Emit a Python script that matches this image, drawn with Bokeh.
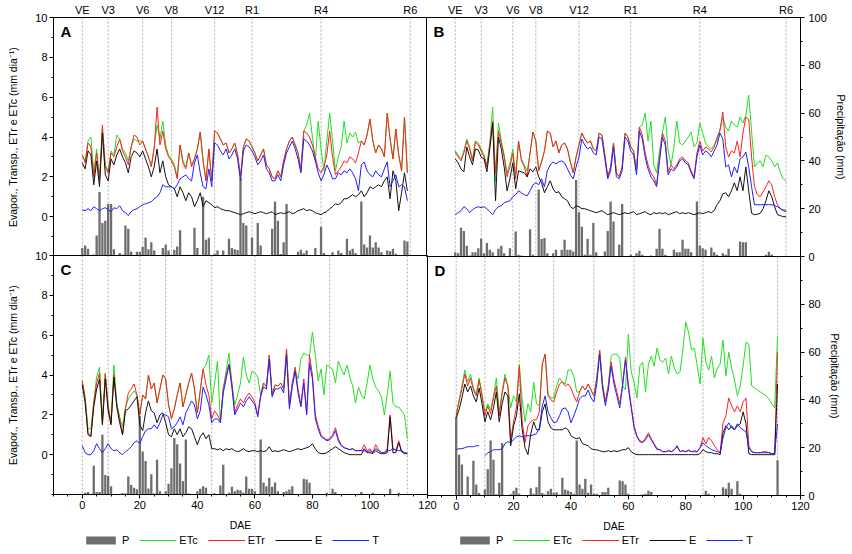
from bokeh.plotting import figure
from bokeh.models import (Range1d, LinearAxis, FixedTicker, Span, Label,
                          Legend, LegendItem, ColumnDataSource)
from bokeh.embed import file_html
from bokeh.resources import INLINE

NaN = float("nan")

# ---------------- data ----------------
stage_names = ["VE", "V3", "V6", "V8", "V12", "R1", "R4", "R6"]
stage_A = [0, 9, 21, 31, 46, 59, 83, 114]
stage_B = [0, 9, 20, 28, 43, 61, 85, 115]
stage_C = [0, 9, 20, 29, 45, 60, 86, 113]
stage_D = [0, 10, 22, 34, 48, 62, 86, 112]

x_ticks = [0, 20, 40, 60, 80, 100, 120]
y_ticks = [0, 2, 4, 6, 8, 10]
p_ticks_B = [0, 20, 40, 60, 80, 100]
p_ticks_D = [0, 20, 40, 60, 80]

series_names = ["P", "ETc", "ETr", "E", "T"]

# Panel A
etr_A = [3.1, 2.7, 3.7, 3.5, 2.0, 3.2, 1.8, 4.6, 2.5, 2.2,
         3.2, 3.0, 3.5, 3.9, 3.3, 3.0, 2.6, 3.5, 4.1, 4.0,
         3.6, 3.8, 3.4, 3.0, 2.5, 3.4, 5.5, 3.6, 4.3, 3.4,
         3.0, 2.8, 2.5, 1.9, 3.6, 2.7, 2.4, 3.2, 2.5, 2.9,
         3.4, 4.25, 2.8, 1.8, 3.4, 1.8, 4.3, 4.2, 3.9, 3.6,
         3.7, 3.2, 3.4, 3.7, 3.1, 2.0, 3.5, 3.9, 3.8, 3.5,
         3.2, 2.8, 3.1, 3.4, 2.6, 2.4, 2.0, 1.9, 2.3, 2.0,
         2.8, 3.4, 3.8, 4.0, 3.6, 3.2, 2.3, 4.3, 4.2, 4.0,
         3.6, 3.0, 2.4, 2.2, 2.5, 3.1, 4.3, 3.0, 2.1, 2.3,
         2.5, 2.8, 2.7, 3.0, 2.9, 2.7, 3.2, 3.8, 3.6, 4.1,
         4.9, 3.8, 3.2, 3.6, 3.4, 3.0, 5.2, 3.9, 2.9, 4.4,
         3.1, 2.3, 5.0, 2.2]
etc_A = [3.1, 2.8, 3.8, 4.0, 2.2, 3.4, 1.9, 4.4, 2.6, 2.3,
         3.3, 3.1, 4.1, 3.9, 3.4, 3.2, 2.8, 3.5, 3.9, 3.8,
         3.8, 3.8, 3.4, 3.0, 2.6, 3.5, 4.6, 3.9, 4.8, 3.6,
         3.1, 2.9, 2.6, 2.0, 3.6, 2.8, 2.5, 3.2, 2.6, 2.9,
         3.4, 4.25, 2.8, 1.8, 3.4, 1.8, 4.3, 4.2, 3.9, 3.6,
         3.7, 3.2, 3.4, 3.7, 3.1, 2.0, 3.5, 3.9, 3.8, 3.5,
         3.2, 2.8, 3.1, 3.4, 2.6, 2.4, 2.0, 1.9, 2.3, 2.0,
         2.8, 3.4, 3.8, 4.0, 3.6, 3.2, 2.4, 4.3, 4.6, 5.2,
         4.0, 2.8, 4.8, 3.4, 2.3, 3.8, 5.2, 3.8, 2.3, 3.0,
         3.5, 4.8, 3.7, 4.2, 4.0, 4.25, 3.7, 3.8, 3.6, 4.1,
         4.9, 3.8, 3.2, 3.6, 3.4, 3.0, 5.2, 3.9, 2.9, 4.4,
         3.1, 2.3, 5.0, 2.2]
e_A = [2.7, 2.4, 3.3, 3.1, 1.6, 2.8, 1.5, 4.2, 2.1, 1.8,
       2.9, 2.6, 3.1, 3.4, 3.0, 2.7, 2.2, 3.0, 3.3, 3.2,
       3.0, 3.3, 2.9, 2.5, 2.0, 2.5, 3.4, 2.2, 2.8, 2.0,
       1.6, 1.5, 1.4, 1.0, 1.5, 1.2, 0.8, 1.2, 1.0, 0.5,
       0.8, 1.2, 0.5, 0.8, 0.7, 0.6, 0.45, 0.5, 0.4, 0.35,
       0.3, 0.3, 0.25, 0.2, 0.15, 0.1, 0.15, 0.2, 0.25, 0.2,
       0.15, 0.2, 0.25, 0.2, 0.15, 0.2, 0.25, 0.1, 0.15, 0.2,
       0.15, 0.2, 0.25, 0.15, 0.2, 0.3, 0.35, 0.4, 0.3, 0.35,
       0.3, 0.2, 0.15, 0.1, 0.2, 0.25, 0.4, 0.5, 0.65, 0.6,
       0.7, 0.9, 0.9, 1.0, 1.1, 1.0, 1.1, 1.3, 1.0, 1.2,
       1.5, 1.4, 1.5, 1.6, 1.5, 1.8, 2.0, 0.9, 2.3, 1.8,
       0.3, 1.2, 2.2, 1.3]
t_A = [0.35, 0.3, 0.4, 0.3, 0.5, 0.4, 0.3, 0.4, 0.45, 0.35,
       0.25, 0.45, 0.4, 0.55, 0.3, 0.2, 0.05, 0.25, 0.35, 0.4,
       0.5, 0.6, 0.65, 0.7, 0.75, 0.9, 1.0, 1.2, 1.6, 1.5,
       1.5, 1.5, 1.4, 1.6, 1.9, 2.0, 2.1, 1.9, 1.8, 2.7,
       3.1, 2.2, 1.5, 1.4, 2.4, 1.5, 3.7, 3.6, 3.3, 3.1,
       3.4, 2.9, 3.1, 3.4, 2.9, 1.8, 3.3, 3.6, 3.5, 3.3,
       3.0, 2.6, 2.8, 3.1, 2.4, 2.2, 1.8, 1.8, 2.1, 1.8,
       2.6, 3.2, 3.5, 3.8, 3.4, 2.9, 2.2, 3.9, 3.8, 3.6,
       3.3, 2.8, 2.2, 1.8, 2.1, 2.6, 2.3, 1.9, 1.9, 2.2,
       2.1, 2.3, 2.2, 2.4, 2.2, 1.9, 1.3, 2.6, 2.75, 2.3,
       2.1, 2.0, 2.3, 2.1, 2.0, 2.4, 2.75, 1.5, 1.8, 2.1,
       1.5, 1.6, 1.5, 0.8]
p_A = [3.6, 4.6, 3.2, 0, 0.8, 8.8, 27, 14, 15, 22,
       22, 3, 0, 1.5, 0.8, 13, 11.6, 2, 0, 2,
       2, 4, 7.8, 3, 6, 2.5, 0, 0.5, 3.6, 5,
       2.5, 0, 2.8, 4.2, 11, 0, 0, 0.7, 0, 12,
       3.6, 0, 25, 7, 7.8, 0, 1.2, 2.5, 0.5, 2.5,
       0, 7.4, 3.6, 3, 2.7, 33, 14, 13, 0, 8,
       0, 14, 4.6, 0, 0, 0, 11.6, 23, 15, 1.0,
       6, 22, 0, 0, 0, 2, 2.8, 1.4, 2.5, 0,
       0, 3.6, 0, 12.5, 1.5, 0, 0, 1.8, 0, 2.5,
       1.5, 0, 7.4, 2.5, 3.2, 1.5, 0, 23, 5, 3.8,
       8.8, 3.8, 6, 3.8, 1.8, 0, 2.5, 2.2, 3.2, 1.1,
       0, 0, 6.7, 6.3]

# Panel B
etr_B = [3.25, 3.0, 2.8, 3.2, 3.8, 3.4, 2.8, 3.75, 3.6, 3.3,
         3.0, 2.5, 3.6, 4.8, 2.2, 4.3, 3.7, 3.0, 2.0, 2.5,
         3.2, 1.9, 3.8, 2.8, 2.5, 2.0, 3.2, 4.25, 3.8, 2.3,
         2.75, 3.3, 4.3, 4.2, 3.5, 3.8, 3.2, 3.6, 3.7, 3.4,
         2.75, 2.2, 3.0, 3.6, 4.2, 3.9, 3.7, 3.8, 3.4, 3.3,
         4.2, 4.1, 3.1, 2.0, 2.5, 3.7, 2.2, 2.0, 2.5, 4.2,
         4.0, 3.5, 3.3, 2.3, 4.5, 4.1, 3.2, 2.6, 2.2, 2.0,
         1.6, 3.0, 4.2, 3.8, 2.25, 2.6, 2.4, 2.6, 2.9, 3.0,
         2.8, 2.7, 2.3, 2.0, 3.2, 3.8, 3.3, 3.5, 3.4, 3.25,
         3.5, 4.0, 4.3, 5.25, 3.5, 3.0, 3.3, 3.2, 3.8, 3.0,
         4.2, 5.0, 4.9, 3.0, 1.5, 1.1, 1.0, 1.25, 1.5, 1.8,
         1.6, 1.0, 0.6, 0.4, 0.35, 0.33]
etc_B = [3.3, 3.1, 2.9, 3.3, 3.9, 3.5, 2.9, 3.8, 3.7, 3.4,
         3.1, 2.6, 3.7, 5.5, 1.8, 4.7, 3.8, 3.1, 2.2, 2.7,
         3.4, 2.1, 3.8, 2.9, 2.6, 2.3, 3.2, 4.25, 3.8, 2.3,
         2.75, 3.3, 4.3, 4.2, 3.5, 3.8, 3.2, 3.6, 3.7, 3.4,
         2.75, 2.2, 3.0, 3.6, 4.2, 3.9, 3.7, 3.8, 3.4, 3.3,
         4.2, 4.1, 3.1, 2.0, 2.5, 3.7, 2.2, 2.0, 2.5, 4.2,
         4.0, 3.5, 3.3, 2.3, 4.5, 4.6, 5.2, 3.8, 4.8, 2.6,
         2.2, 3.3, 4.2, 5.0, 3.3, 2.6, 3.5, 4.8, 3.7, 3.6,
         3.8, 4.0, 4.25, 3.5, 3.7, 4.7, 4.2, 3.7, 3.5, 3.4,
         3.6, 3.8, 4.4, 5.0, 4.5, 4.3, 4.8, 4.6, 4.5, 5.0,
         4.7, 5.1, 6.1, 4.3, 2.5, 2.7, 2.8, 2.5, 3.1, 3.0,
         2.8, 2.5, 2.7, 2.2, 1.9, 1.8]
e_B = [2.9, 2.7, 2.4, 2.25, 3.5, 3.0, 2.6, 3.4, 3.35, 3.0,
       2.9, 2.25, 3.4, 4.7, 0.8, 4.0, 3.4, 2.5, 1.3, 1.9,
       2.7, 1.4, 2.3, 2.25, 2.2, 2.0, 2.4, 2.25, 2.5, 2.0,
       1.7, 1.2, 1.5, 1.8, 1.4, 1.2, 1.25, 1.0, 0.9, 0.8,
       0.5, 0.4, 0.55, 0.5, 0.4, 0.4, 0.35, 0.3, 0.25, 0.2,
       0.25, 0.3, 0.2, 0.1, 0.15, 0.2, 0.15, 0.1, 0.15, 0.2,
       0.15, 0.2, 0.25, 0.1, 0.15, 0.2, 0.25, 0.15, 0.1, 0.2,
       0.15, 0.2, 0.15, 0.2, 0.1, 0.15, 0.2, 0.25, 0.15, 0.2,
       0.15, 0.2, 0.15, 0.1, 0.15, 0.2, 0.15, 0.2, 0.25, 0.2,
       0.3, 0.6, 0.8, 1.15, 1.2, 1.0, 1.3, 1.7, 1.3, 2.0,
       1.3, 2.5, 1.3, 0.17, 0.1, 0.12, 0.17, 0.4, 0.8, 1.3,
       1.0, 0.5, 0.1, 0.05, 0.0, 0.0]
t_B = [0.1, 0.2, 0.3, 0.5, 0.4, 0.2, 0.35, 0.45, 0.5, 0.45,
       0.5, 0.4, 0.25, 0.1, 0.35, 0.5, 0.55, 0.7, 0.75, 0.8,
       1.0, 1.1, 1.3, 1.2, 1.1, 1.05, 1.3, 1.6, 1.7, 1.6,
       1.9, 1.5, 2.3, 2.6, 2.75, 2.65, 2.75, 2.8, 2.7, 2.4,
       2.1, 1.9, 2.5, 3.0, 3.9, 3.6, 3.4, 3.5, 3.2, 3.1,
       4.0, 3.9, 2.9, 1.9, 2.3, 3.5, 2.0, 1.9, 2.3, 4.0,
       3.8, 3.3, 3.1, 2.1, 4.3, 3.9, 3.0, 2.4, 2.0, 1.8,
       1.5, 2.8, 4.0, 3.6, 2.1, 2.4, 2.3, 2.5, 2.8, 2.9,
       2.7, 2.6, 2.2, 1.9, 3.0, 3.6, 3.1, 3.3, 3.2, 3.0,
       3.3, 3.6, 4.2, 3.9, 2.5, 2.6, 2.0, 2.5, 2.2, 2.9,
       3.0, 3.25, 2.5, 1.5, 0.6, 0.6, 0.6, 0.6, 0.6, 0.6,
       0.6, 0.55, 0.5, 0.4, 0.3, 0.25]
p_B = [1.8, 1.4, 12, 10.7, 4.5, 0.4, 1.8, 1.8, 3.5, 7.4,
       1.4, 5.6, 2.8, 1.8, 0, 3.2, 4.5, 1.4, 0, 3.5,
       0, 10.5, 0.7, 0.4, 0, 0, 11.4, 0.7, 0, 28,
       7.3, 7.7, 1.4, 0, 1.4, 2.8, 0, 2.8, 7, 2.8,
       2.8, 2.1, 32, 18.5, 12.5, 0.7, 7.4, 0.7, 14, 1.8,
       0, 0, 2.1, 10.7, 23, 14.6, 0, 5, 22, 0,
       0, 0.7, 0, 1.4, 2.4, 0.7, 0, 0, 0.4, 0,
       3.2, 11.6, 3.2, 0.7, 0, 0, 2.8, 1.8, 1.8, 7,
       3.2, 3.2, 1.8, 0, 23, 4.6, 3.5, 2.8, 0, 3.8,
       1.8, 0.7, 0, 1.4, 0.7, 3.2, 0, 0, 0, 6.3,
       6.0, 6.0, 0, 0, 0, 0, 0, 0, 0.7, 2.0,
       0.8, 0, 0, 0, 0, 0]

# Panel C
etr_C = [3.7, 2.8, 1.1, 0.95, 2.6, 3.6, 4.1, 1.6, 4.05, 2.4,
         1.6, 4.0, 2.5, 1.8, 1.0, 2.3, 3.1, 3.3, 3.55, 3.0,
         2.0, 3.0, 2.8, 4.0, 3.3, 3.6, 2.6, 3.3, 4.0, 3.8,
         2.5, 1.8, 2.3, 3.0, 3.6, 2.4, 3.0, 3.6, 4.1, 3.3,
         2.1, 3.2, 4.3, 3.5, 3.0, 1.8, 2.2, 2.0, 1.7, 3.3,
         4.0, 4.55, 3.6, 2.1, 2.5, 2.8, 2.6, 2.9, 3.1, 2.9,
         2.6, 2.0, 3.0, 3.6, 3.4, 5.0, 3.0, 3.5, 3.45, 3.6,
         3.3, 5.3, 2.5, 3.6, 4.4, 3.3, 2.5, 3.8, 2.1, 5.0,
         4.0, 2.0, 1.45, 1.0, 0.85, 0.75, 0.8, 1.0, 1.35, 0.8,
         0.5, 0.35, 0.3, 0.25, 0.3, 0.2, 0.2, 0.2, 0.5, 0.2,
         0.3, 0.1, 0.5, 0.25, 0.1, 0.1, 0.3, 2.0, 0.3, 0.2,
         0.7, 0.2, 0.1, 0.05]
etc_C = [3.7, 2.9, 1.3, 1.3, 2.7, 3.9, 4.4, 1.7, 4.1, 2.5,
         1.6, 4.5, 2.6, 1.9, 1.4, 2.4, 2.8, 3.0, 3.2, 3.0,
         2.0, 3.0, 2.8, 4.0, 3.3, 3.6, 2.6, 3.3, 4.0, 3.8,
         2.5, 1.8, 2.3, 3.0, 3.6, 2.4, 3.0, 3.6, 4.1, 3.3,
         2.1, 3.2, 4.3, 4.5, 5.0, 2.6, 3.6, 4.7, 1.6, 3.3,
         4.2, 5.1, 3.6, 2.5, 3.0, 3.6, 4.9, 4.0, 3.6, 4.2,
         4.1, 3.9, 3.0, 3.6, 3.4, 5.0, 3.0, 3.5, 3.45, 3.6,
         3.3, 5.3, 2.5, 3.6, 4.2, 3.8, 4.8, 5.1, 5.0, 5.0,
         6.15, 5.0, 3.7, 4.3, 3.0, 4.5, 4.4, 4.3, 3.6, 4.7,
         4.3, 4.0, 4.5, 3.9, 3.45, 2.6, 3.4, 3.0, 2.8, 3.6,
         4.5, 3.8, 3.4, 3.2, 2.9, 2.0, 3.0, 4.2, 2.6, 2.4,
         2.4, 2.2, 2.0, 0.8]
e_C = [3.5, 2.6, 1.0, 0.9, 2.4, 3.3, 3.8, 1.5, 3.8, 2.2,
       1.5, 3.9, 2.4, 1.6, 1.0, 2.2, 2.3, 2.5, 2.7, 2.9,
       1.5, 1.2, 2.1, 2.7, 2.2, 2.1, 1.6, 2.0, 2.1, 1.6,
       1.0, 0.9, 1.3, 1.0, 1.3, 0.9, 1.1, 1.4, 1.3, 0.9,
       0.5, 0.9, 1.1, 0.8, 1.0, 0.3, 0.3, 0.25, 0.3, 0.2,
       0.3, 0.25, 0.3, 0.2, 0.15, 0.2, 0.3, 0.2, 0.15, 0.2,
       0.2, 0.15, 0.2, 0.15, 0.2, 0.4, 0.15, 0.2, 0.15, 0.2,
       0.25, 0.2, 0.15, 0.2, 0.25, 0.3, 0.25, 0.3, 0.35, 0.4,
       0.55, 0.3, 0.1, 0.05, 0.05, 0.1, 0.2, 0.3, 0.4, 0.3,
       0.2, 0.1, 0.05, 0.0, 0.0, 0.0, 0.0, 0.0, 0.3, 0.1,
       0.1, 0.05, 0.2, 0.1, 0.05, 0.05, 0.1, 1.9, 0.1, 0.1,
       0.6, 0.15, 0.05, 0.05]
t_C = [0.45, 0.1, 0.0, 0.0, 0.2, 0.55, 0.3, 0.1, 0.3, 0.55,
       0.3, 0.2, 0.25, 0.1, 0.0, 0.15, 0.25, 0.4, 0.6, 0.7,
       0.55, 0.9, 1.2, 1.3, 1.3, 1.5, 1.3, 1.6, 2.0, 2.0,
       1.9, 1.3, 1.4, 1.6, 1.9, 1.5, 2.1, 2.4, 2.7, 2.5,
       1.8, 2.2, 3.4, 3.0, 2.5, 1.6, 1.8, 1.8, 1.6, 3.1,
       3.8, 4.5, 3.4, 2.0, 2.3, 2.6, 2.4, 2.7, 2.9, 2.7,
       2.5, 1.9, 2.9, 3.4, 3.3, 4.8, 2.9, 3.3, 3.3, 3.4,
       3.1, 5.0, 2.3, 3.4, 4.2, 3.1, 2.4, 3.6, 2.0, 4.6,
       3.8, 1.8, 1.3, 0.9, 0.8, 0.7, 0.75, 0.9, 1.2, 0.7,
       0.45, 0.35, 0.3, 0.25, 0.3, 0.2, 0.2, 0.2, 0.2, 0.15,
       0.2, 0.1, 0.3, 0.2, 0.1, 0.1, 0.2, 0.2, 0.3, 0.25,
       0.2, 0.2, 0.1, 0.05]
p_C = [0, 0.7, 1.0, 0, 12, 1.0, 1.0, 25, 8.2, 7.7,
       3.4, 0, 0, 0, 0.5, 0.5, 7.5, 4, 2.8, 2.2,
       33, 18, 14, 2.5, 8.5, 0.5, 14.5, 1.4, 0, 1.4,
       4.5, 11, 23.6, 21, 13, 5.5, 23, 0.4, 0, 0,
       1.4, 2.4, 3.4, 2.8, 0, 0, 0.5, 0, 3.8, 12.4,
       0, 0.7, 3.2, 1.4, 2.0, 1.8, 0.7, 7.5, 2.4, 2.4,
       1.4, 0, 23, 5, 3.5, 7, 3.2, 5, 1.4, 0,
       1.0, 1.4, 2.1, 3.5, 0, 0, 0, 6.6, 6.3, 4.9,
       0, 0, 0, 0, 0, 0.7, 0, 2.4, 1.0, 0,
       0, 0, 0, 0, 0, 0, 0, 1.0, 0, 0,
       0, 0.7, 0, 0, 0, 0, 0, 2.4, 0, 0,
       0.7, 0, 0, 0]

# Panel D
etr_D = [2.0, 2.7, 3.35, 4.1, 3.5, 3.9, 3.3, 3.0, 3.8, 3.0,
         2.0, 2.5, 2.1, 2.9, 3.5, 2.0, 3.1, 3.9, 3.5, 0.8,
         1.7, 2.4, 4.5, 1.7, 0.65, 1.5, 1.7, 1.8, 1.8, 2.2,
         4.6, 5.1, 3.0, 2.8, 2.7, 3.2, 3.6, 3.7, 3.5, 3.6,
         3.4, 3.0, 2.7, 3.2, 3.5, 3.3, 3.6, 3.3, 3.0, 3.9,
         5.3, 3.6, 2.7, 3.5, 4.7, 3.8, 3.2, 2.6, 3.6, 4.95,
         3.6, 2.5, 1.5, 1.0, 0.75, 0.7, 0.9, 1.15, 0.85, 0.6,
         0.35, 0.3, 0.2, 0.2, 0.25, 0.2, 0.3, 0.45, 0.2, 0.25,
         0.2, 0.3, 0.2, 0.25, 0.2, 0.4, 0.9, 0.6, 0.9, 0.75,
         0.5, 0.3, 0.15, 1.65, 2.0, 2.9, 2.5, 2.2, 2.5, 2.2,
         2.7, 2.9, 0.5, 0.2, 0.15, 0.15, 0.15, 0.2, 0.2, 0.15,
         0.1, 0.1, 5.2]
etc_D = [2.1, 2.8, 3.5, 4.3, 3.7, 4.1, 3.4, 3.1, 3.9, 3.1,
         2.2, 2.6, 2.3, 3.0, 3.9, 2.2, 3.2, 4.1, 3.5, 2.4,
         3.0, 2.7, 4.6, 2.8, 1.7, 2.6, 2.2, 3.7, 2.6, 2.5,
         4.6, 5.1, 3.1, 2.9, 2.9, 3.5, 3.9, 3.7, 3.6, 4.3,
         4.3, 4.0, 3.2, 3.2, 3.5, 3.3, 3.6, 3.3, 3.0, 3.9,
         5.3, 3.6, 2.7, 3.5, 5.0, 5.1, 5.1, 4.9, 3.5, 3.3,
         6.1, 4.2, 3.7, 2.9, 4.5, 4.7, 3.2, 4.6, 5.0, 4.5,
         5.4, 4.8, 4.7, 4.9, 4.1, 5.0, 4.4, 4.1, 4.2, 5.3,
         6.7, 6.2, 5.3, 5.4, 4.5, 3.6, 5.9, 4.7, 4.3, 5.0,
         3.9, 4.4, 4.6, 5.8, 4.0, 5.2, 4.4, 3.8, 3.0, 3.5,
         4.5, 5.7, 5.6, 3.5, 3.4, 3.3, 3.2, 3.1, 3.0, 2.85,
         2.6, 2.4, 6.0]
e_D = [1.9, 2.3, 2.9, 3.6, 3.2, 3.5, 3.0, 2.7, 3.4, 2.6,
       1.7, 2.2, 1.8, 2.4, 3.2, 1.7, 2.6, 3.2, 3.0, 0.5,
       1.5, 2.0, 3.1, 1.3, 0.4, 0.05, 1.1, 1.7, 1.3, 1.3,
       2.2, 2.6, 1.7, 1.4, 1.3, 1.3, 1.3, 1.3, 1.4, 1.3,
       1.0, 0.9, 0.85, 0.9, 0.6, 0.55, 0.5, 0.35, 0.3, 0.3,
       0.25, 0.2, 0.2, 0.25, 0.2, 0.25, 0.2, 0.25, 0.3, 0.3,
       0.4, 0.2, 0.1, 0.05, 0.05, 0.05, 0.05, 0.05, 0.05, 0.05,
       0.05, 0.05, 0.05, 0.05, 0.05, 0.05, 0.05, 0.05, 0.05, 0.05,
       0.05, 0.05, 0.05, 0.05, 0.05, 0.1, 0.3, 0.2, 0.15, 0.15,
       0.1, 0.1, 0.05, 1.15, 1.5, 1.3, 1.5, 1.3, 1.5, 1.6,
       2.2, 1.6, 0.1, 0.05, 0.05, 0.05, 0.05, 0.05, 0.05, 0.05,
       0.05, 0.05, 3.6]
t_D = [0.3, 0.35, 0.35, 0.4, 0.45, 0.45, 0.45, 0.5, 0.5, NaN,
       0.0, 0.15, 0.2, 0.3, 0.3, 0.3, 0.35, 0.6, 0.7, 0.65,
       0.8, 0.95, 1.0, 0.95, 1.0, 1.0, 1.0, 1.05, 1.1, 1.4,
       2.5, 3.0, 2.2, 1.9, 1.65, 1.7, 2.0, 2.35, 2.4, 2.2,
       1.65, 2.0, 2.4, 2.85, 3.0, 3.0, 3.3, 2.9, 2.7, 3.6,
       5.1, 3.4, 2.5, 3.3, 4.5, 3.6, 3.0, 2.4, 3.5, 4.8,
       3.4, 2.4, 1.4, 0.95, 0.7, 0.65, 0.8, 1.05, 0.8, 0.55,
       0.3, 0.3, 0.2, 0.2, 0.25, 0.2, 0.3, 0.5, 0.2, 0.25,
       0.2, 0.25, 0.2, 0.2, 0.2, 0.4, 0.65, 0.5, 0.4, 0.3,
       0.25, 0.2, 0.15, 0.9, 1.4, 1.65, 1.4, 1.3, 1.6, 1.4,
       1.3, 1.2, 0.4, 0.2, 0.15, 0.15, 0.15, 0.15, 0.15, 0.15,
       0.1, 0.1, 1.6]
p_D = [33, 17, 13, 0, 8, 0, 14.5, 4.6, 1.0, 0,
       2.5, 11, 23, 15, 0.5, 5.3, 22, 0, 0, 0.5,
       2.0, 3.2, 0.7, 0, 0, 0, 3.0, 0.7, 3.5, 12,
       1.0, 0.4, 1.8, 2.8, 1.1, 1.4, 0.4, 7.4, 2.5, 2.1,
       1.5, 0.7, 23, 4.6, 2.8, 7.0, 1.1, 4.6, 0.7, 0.7,
       0, 1.5, 1.5, 3.2, 0.2, 0, 0, 6.3, 6.0, 4.6,
       0.7, 0, 0, 0, 0, 0.4, 0.7, 2.0, 1.5, 0,
       0, 0, 0, 0.2, 0, 0, 0, 0, 0, 0,
       0, 0.4, 0, 0, 0, 0, 0, 2.0, 0.7, 0,
       0, 0, 0, 3.5, 2.8, 5.3, 2.8, 0, 6.0, 0.7,
       0, 0, 0, 0, 0, 0, 0, 0, 0, 0,
       0.2, 0, 14.7]

# ---------------- style ----------------
FONT = "Liberation Sans"
C_ETC = "#22e022"
C_ETR = "#ff2020"
C_E = "#111111"
C_T = "#2020ff"
C_P = "#6e6e6e"
C_STAGE = "#b0b0b0"


def place(fig, pos):
    fig.styles = {"position": "absolute", "left": f"{pos[0]}px", "top": f"{pos[1]}px"}


def style_axis(ax, ticks, minor):
    ax.ticker = FixedTicker(ticks=ticks, minor_ticks=minor)
    ax.major_label_text_font = FONT
    ax.major_label_text_font_size = "11px"
    ax.major_label_text_color = "black"
    ax.axis_label_text_font = FONT
    ax.axis_label_text_font_size = "10.5px"
    ax.axis_label_text_font_style = "normal"
    ax.axis_label_text_color = "black"
    ax.axis_line_color = "black"
    ax.major_tick_line_color = "black"
    ax.minor_tick_line_color = "black"
    ax.major_tick_in = 0
    ax.major_tick_out = 4
    ax.minor_tick_in = 0
    ax.minor_tick_out = 2
    ax.major_label_standoff = 2


def panel(letter, stages, etr, etc, e, t, p, pos, size, borders,
          show_left, p_ticks, show_bottom, show_names):
    dae = list(range(len(etr)))
    src = ColumnDataSource(dict(dae=dae, etr=etr, etc=etc, e=e, t=t, p=p))
    fig = figure(width=size[0], height=size[1],
                 x_range=Range1d(-10, 120), y_range=Range1d(-2, 10),
                 x_axis_location="below" if show_bottom else None,
                 y_axis_location="left" if show_left else None,
                 toolbar_location=None, output_backend="svg",
                 min_border_left=borders[0], min_border_right=borders[1],
                 min_border_top=borders[2], min_border_bottom=borders[3])
    place(fig, pos)
    fig.extra_y_ranges = {"P": Range1d(0, 100)}
    fig.background_fill_alpha = 0
    fig.border_fill_alpha = 0
    fig.outline_line_color = "black"
    fig.outline_line_width = 1
    fig.outline_line_alpha = 1
    fig.grid.visible = False

    for d in stages:
        fig.add_layout(Span(location=d, dimension="height", line_color=C_STAGE,
                            line_dash="2 2", line_width=1, level="underlay"))
    if show_names:
        top_ax = LinearAxis(ticker=FixedTicker(ticks=stages, minor_ticks=[]),
                            major_label_overrides={d: n for d, n in zip(stages, stage_names)})
        top_ax.axis_line_color = None
        top_ax.major_tick_line_color = None
        top_ax.minor_tick_line_color = None
        top_ax.major_tick_out = 0
        top_ax.major_tick_in = 0
        top_ax.minor_tick_out = 0
        top_ax.minor_tick_in = 0
        top_ax.major_label_standoff = 2
        top_ax.major_label_text_font = FONT
        top_ax.major_label_text_font_size = "11px"
        top_ax.major_label_text_color = "black"
        fig.add_layout(top_ax, "above")
    fig.add_layout(Label(x=-7.6, y=9.72, text=letter, text_align="left",
                         text_baseline="top", text_font=FONT,
                         text_font_size="15px", text_font_style="bold",
                         text_color="black"))

    fig.vbar(x="dae", top="p", bottom=0, width=0.8, source=src,
             y_range_name="P", fill_color=C_P, line_color=None)
    fig.line("dae", "etc", source=src, line_color=C_ETC, line_width=1)
    fig.line("dae", "etr", source=src, line_color=C_ETR, line_width=1)
    fig.line("dae", "e", source=src, line_color=C_E, line_width=1)
    fig.line("dae", "t", source=src, line_color=C_T, line_width=1)

    if show_left:
        ax = fig.yaxis[0]
        style_axis(ax, y_ticks, list(range(-2, 11)))
        ax.axis_label = "Evapor., Transp., ETr e ETc (mm dia\u207b\u00b9)"
        ax.axis_label_standoff = 13
    if p_ticks is not None:
        rax = LinearAxis(y_range_name="P", axis_label="Precipitação (mm)")
        style_axis(rax, p_ticks, list(range(0, 101, 10)))
        rax.major_label_standoff = 4
        rax.axis_label_standoff = 5
        fig.add_layout(rax, "right")
    if show_bottom:
        bx = fig.xaxis[0]
        style_axis(bx, x_ticks, list(range(-10, 121, 5)))
        bx.axis_label = "DAE"
        bx.axis_label_standoff = 7
    return fig


def legend_strip(pos):
    lf = figure(width=374, height=18, x_range=Range1d(0, 1), y_range=Range1d(0, 1),
                x_axis_location=None, y_axis_location=None,
                toolbar_location=None, output_backend="svg",
                min_border_left=0, min_border_right=0,
                min_border_top=0, min_border_bottom=0)
    place(lf, pos)
    lf.background_fill_alpha = 0
    lf.border_fill_alpha = 0
    lf.outline_line_color = None
    lf.grid.visible = False
    # legend-only renderers: a single missing value, so nothing is drawn in the strip
    blank = ColumnDataSource(dict(x=[NaN], y=[NaN], top=[NaN]))
    rs = [lf.vbar(x="x", top="top", width=0.8, source=blank, fill_color=C_P, line_color=None),
          lf.line("x", "y", source=blank, line_color=C_ETC, line_width=1),
          lf.line("x", "y", source=blank, line_color=C_ETR, line_width=1),
          lf.line("x", "y", source=blank, line_color=C_E, line_width=1),
          lf.line("x", "y", source=blank, line_color=C_T, line_width=1)]
    leg = Legend(items=[LegendItem(label=n, renderers=[r]) for n, r in zip(series_names, rs)],
                 orientation="horizontal", location=(29, 4),
                 glyph_width=37, glyph_height=10, label_height=10, label_width=0,
                 label_standoff=3, spacing=10, padding=0, margin=0,
                 border_line_alpha=0, background_fill_alpha=0,
                 label_text_font=FONT, label_text_font_size="11px",
                 label_text_color="black")
    lf.add_layout(leg)
    return lf


# positions (left, top), sizes (w, h), borders (left, right, top, bottom)
pA = panel("A", stage_A, etr_A, etc_A, e_A, t_A, p_A, (0, 0), (427, 256), (53, 0, 17, 0),
           True, None, False, True)
pB = panel("B", stage_B, etr_B, etc_B, e_B, t_B, p_B, (426, 0), (426, 264), (0, 52, 17, 8),
           False, p_ticks_B, False, True)
pC = panel("C", stage_C, etr_C, etc_C, e_C, t_C, p_C, (0, 247), (441, 307), (53, 14, 8, 60),
           True, None, True, False)
pD = panel("D", stage_D, etr_D, etc_D, e_D, t_D, p_D, (427, 256), (425, 298), (0, 52, 0, 59),
           False, p_ticks_D, True, False)
lC = legend_strip((53, 532))
lD = legend_strip((427, 532))

with open("out.html", "w") as f:
    f.write(file_html([pA, pB, pC, pD, lC, lD], INLINE))
